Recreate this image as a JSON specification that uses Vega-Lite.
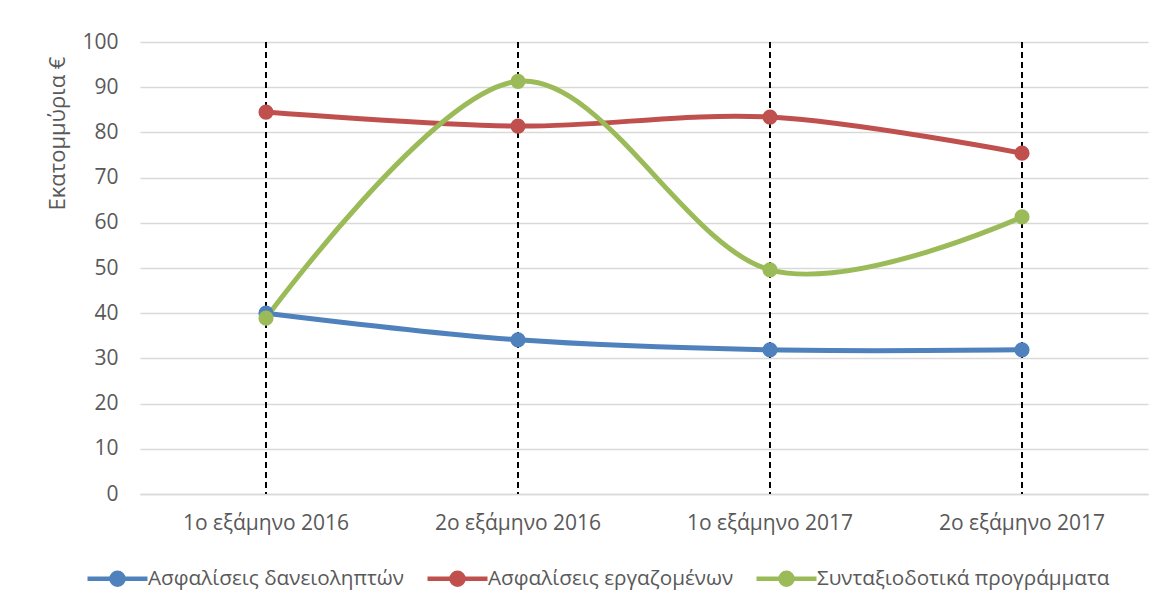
{
  "$schema": "https://vega.github.io/schema/vega-lite/v6.json",
  "width": 1008,
  "height": 452,
  "autosize": {"type": "none"},
  "padding": {"left": 140, "top": 42, "right": 18, "bottom": 116},
  "background": "white",
  "data": {
    "values": [
      {"period": "1ο εξάμηνο 2016", "series": "Ασφαλίσεις δανειοληπτών", "value": 40.0},
      {"period": "2ο εξάμηνο 2016", "series": "Ασφαλίσεις δανειοληπτών", "value": 34.1},
      {"period": "1ο εξάμηνο 2017", "series": "Ασφαλίσεις δανειοληπτών", "value": 31.9},
      {"period": "2ο εξάμηνο 2017", "series": "Ασφαλίσεις δανειοληπτών", "value": 31.9},
      {"period": "1ο εξάμηνο 2016", "series": "Ασφαλίσεις εργαζομένων", "value": 84.5},
      {"period": "2ο εξάμηνο 2016", "series": "Ασφαλίσεις εργαζομένων", "value": 81.4},
      {"period": "1ο εξάμηνο 2017", "series": "Ασφαλίσεις εργαζομένων", "value": 83.4},
      {"period": "2ο εξάμηνο 2017", "series": "Ασφαλίσεις εργαζομένων", "value": 75.4},
      {"period": "1ο εξάμηνο 2016", "series": "Συνταξιοδοτικά προγράμματα", "value": 38.9},
      {"period": "2ο εξάμηνο 2016", "series": "Συνταξιοδοτικά προγράμματα", "value": 91.3},
      {"period": "1ο εξάμηνο 2017", "series": "Συνταξιοδοτικά προγράμματα", "value": 49.6},
      {"period": "2ο εξάμηνο 2017", "series": "Συνταξιοδοτικά προγράμματα", "value": 61.3}
    ]
  },
  "encoding": {
    "x": {
      "field": "period",
      "type": "ordinal",
      "sort": null,
      "title": null,
      "axis": {
        "labelAngle": 0,
        "labelFontSize": 21,
        "labelColor": "#595959",
        "labelPadding": 18,
        "labelLimit": 0,
        "ticks": false,
        "grid": false,
        "domainColor": "#D9D9D9",
        "domainWidth": 1.5
      }
    }
  },
  "layer": [
    {
      "mark": {"type": "rule", "color": "black", "strokeWidth": 1.6, "strokeDash": [6, 4]},
      "encoding": {}
    },
    {
      "mark": {"type": "line", "interpolate": "cardinal", "strokeWidth": 5, "point": {"filled": true, "size": 230, "opacity": 1}},
      "encoding": {
        "y": {
          "field": "value",
          "type": "quantitative",
          "scale": {"domain": [0, 100]},
          "title": "Εκατομμύρια €",
          "axis": {
            "values": [0, 10, 20, 30, 40, 50, 60, 70, 80, 90, 100],
            "labelFontSize": 21,
            "labelColor": "#595959",
            "labelPadding": 22,
            "ticks": false,
            "domain": false,
            "gridColor": "#D9D9D9",
            "gridWidth": 1.5,
            "titleFontSize": 22,
            "titleFontWeight": "normal",
            "titleColor": "#595959",
            "titleX": -83,
            "titleY": 91,
            "titleAngle": -90,
            "titleAlign": "center",
            "titleBaseline": "middle"
          }
        },
        "color": {
          "field": "series",
          "type": "nominal",
          "scale": {
            "domain": ["Ασφαλίσεις δανειοληπτών", "Ασφαλίσεις εργαζομένων", "Συνταξιοδοτικά προγράμματα"],
            "range": ["#4F81BD", "#C0504D", "#9BBB59"]
          },
          "legend": {
            "title": null,
            "orient": "none",
            "direction": "horizontal",
            "legendX": -45,
            "legendY": 514,
            "labelFontSize": 20.7,
            "labelColor": "#595959",
            "labelLimit": 0,
            "labelOffset": 8,
            "columnPadding": 13,
            "symbolType": "M-1.5,0H1.5M0.3,0A0.3,0.3 0 1 1 -0.3,0A0.3,0.3 0 1 1 0.3,0Z",
            "symbolSize": 1600,
            "symbolStrokeWidth": 4.5,
            "encode": {
              "symbols": {
                "update": {
                  "fill": {"scale": "color", "field": "value"},
                  "stroke": {"scale": "color", "field": "value"},
                  "opacity": {"value": 1}
                }
              }
            }
          }
        }
      }
    }
  ],
  "config": {
    "view": {"stroke": null},
    "font": "Open Sans"
  }
}
